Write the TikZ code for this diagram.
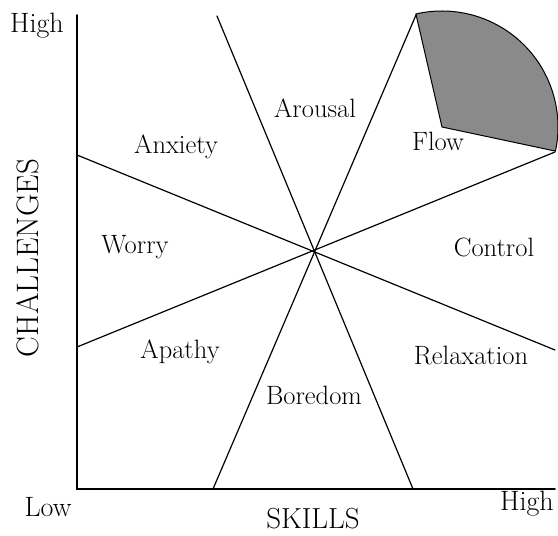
\documentclass[tikz,border=0pt]{standalone}
\usepackage{tikz}
\usetikzlibrary{calc}
\usepackage{xcolor}
\definecolor{flowgray}{RGB}{138,138,138}

\begin{document}
\begin{tikzpicture}[
    x=1pt,y=1pt,
    axis/.style={line width=1.6pt,line cap=round,line join=miter},
    divider/.style={line width=1.2pt,line cap=round},
    zone/.style={font=\fontsize{26.5}{31}\selectfont},
    axlabel/.style={font=\fontsize{28}{33}\selectfont},
    axtitle/.style={font=\fontsize{29}{34}\selectfont}
  ]
  \useasboundingbox (0,0) rectangle (558,536);

  %% ── Key points ────────────────────────────────────────────────────────────
  \coordinate (origin) at (77,47);
  \coordinate (ytop)   at (77,521);
  \coordinate (xend)   at (555,47);
  \coordinate (mid)    at (315,286);
  \coordinate (flowin) at (442,409);

  \coordinate (aroT) at (217,520);  \coordinate (aroB) at (413,47);
  \coordinate (floT) at (416,521);  \coordinate (floB) at (213,47);
  \coordinate (anxL) at (77,381);   \coordinate (anxR) at (555,186);
  \coordinate (apaL) at (77,189);   \coordinate (apaR) at (555,384);

  %% ── Flow wedge ────────────────────────────────────────────────────────────
  \filldraw[fill=flowgray,draw=black,line width=1pt]
      (flowin) -- ++(103:116) arc[start angle=103,end angle=-12,radius=116] -- cycle;

  %% ── Axes ──────────────────────────────────────────────────────────────────
  \draw[axis] (ytop) -- (origin) -- (xend);

  %% ── Dividing lines ────────────────────────────────────────────────────────
  \draw[divider] (aroT) -- (aroB);
  \draw[divider] (floT) -- (floB);
  \draw[divider] (anxL) -- (anxR);
  \draw[divider] (apaL) -- (apaR);

  %% ── Zone labels ───────────────────────────────────────────────────────────
  \node[zone] (arousal)    at (315,428) {Arousal};
  \node[zone] (anxiety)    at (176,389) {Anxiety};
  \node[zone] (flow)       at (438,395) {Flow};
  \node[zone] (worry)      at (135,289) {Worry};
  \node[zone] (control)    at (494,289) {Control};
  \node[zone] (apathy)     at (180,184) {Apathy};
  \node[zone] (relaxation) at (471,180) {Relaxation};
  \node[zone] (boredom)    at (314,141) {Boredom};

  %% ── Axis labels ───────────────────────────────────────────────────────────
  \node[axlabel] (yhigh) at (37,510)  {High};
  \node[axlabel] (xlow)  at (48,29)   {Low};
  \node[axlabel] (xhigh) at (527,32)  {High};
  \node[axtitle,anchor=south,inner sep=0pt] (skills) at (313,7) {SKILLS};
  \node[axtitle,rotate=90,font=\fontsize{31}{36}\selectfont] (challenges)
      at (28,278) {CHALLENGES};

\end{tikzpicture}
\end{document}
